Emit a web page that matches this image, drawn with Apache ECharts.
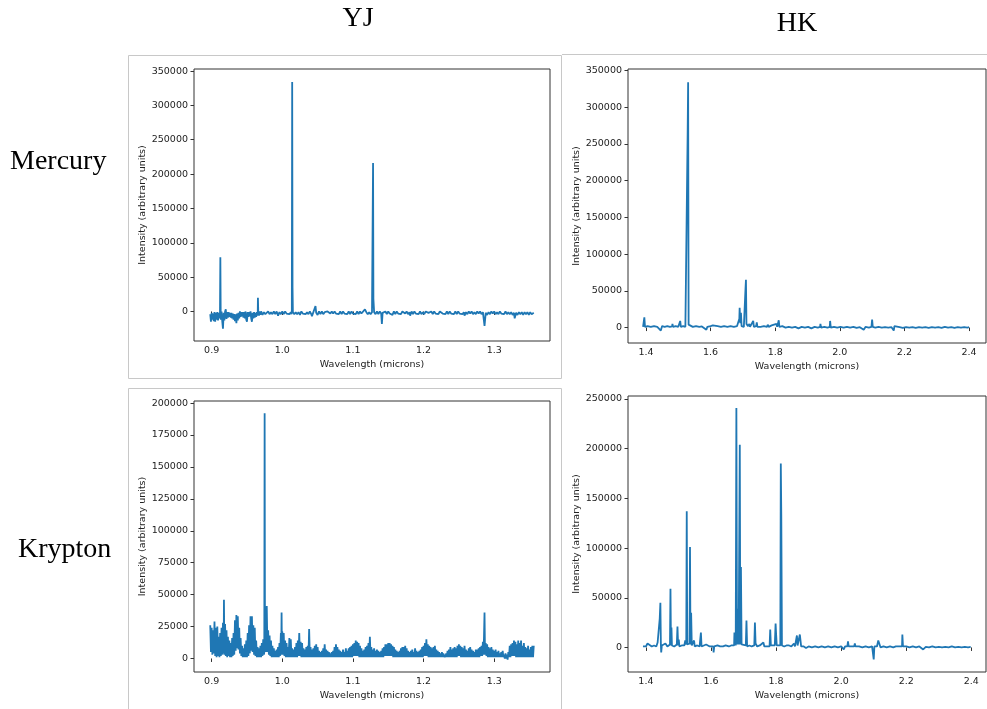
<!DOCTYPE html>
<html>
<head>
<meta charset="utf-8">
<script src="https://cdn.jsdelivr.net/npm/echarts@6/dist/echarts.min.js"></script>
<style>
  html, body { margin: 0; padding: 0; background: #fff; }
  #main { width: 987px; height: 709px; }
</style>
</head>
<body>
<div id="main"></div>
<script>
// tick labels
var yjTicks = [0.9, 1.0, 1.1, 1.2, 1.3];
var hkTicks = [1.4, 1.6, 1.8, 2.0, 2.2, 2.4];
var mercuryYTicks = [0, 50000, 100000, 150000, 200000, 250000, 300000, 350000];
var kryptonYJYTicks = [0, 25000, 50000, 75000, 100000, 125000, 150000, 175000, 200000];
var kryptonHKYTicks = [0, 50000, 100000, 150000, 200000, 250000];

// Mercury, YJ band: [wavelength, intensity]
var mercuryYJ = [
  [0.898, -4000], [0.899, -15000], [0.900, -2000], [0.901, -12000], [0.902, -3000], [0.903, -14000],
  [0.904, -1000], [0.905, -15000], [0.906, -2000], [0.907, -12000], [0.908, -1000], [0.909, -13000],
  [0.910, -2000], [0.911, -10000], [0.9118, -2000], [0.9123, 79000], [0.9128, -3000], [0.913, -12000],
  [0.914, 0], [0.915, -14000], [0.916, -25000], [0.917, -2000], [0.918, -13000], [0.919, 0],
  [0.920, 3000], [0.921, -11000], [0.922, -1000], [0.923, -9000], [0.924, -1000], [0.925, -8000],
  [0.926, -2000], [0.927, -9000], [0.928, -2000], [0.929, -10000], [0.930, -3000], [0.931, -12000],
  [0.932, -4000], [0.933, -14000], [0.934, -4000], [0.935, -17000], [0.936, -3000], [0.937, -13000],
  [0.938, -2000], [0.939, -10000], [0.940, 0], [0.941, -8000], [0.942, -1000], [0.943, -7000],
  [0.944, -1000], [0.945, -9000], [0.946, -1000], [0.947, -10000], [0.948, 0], [0.949, -12000],
  [0.950, -15000], [0.951, -1000], [0.952, -8000], [0.953, -1000], [0.954, -7000], [0.955, 0],
  [0.956, -10000], [0.957, -15000], [0.958, -2000], [0.959, -10000], [0.960, -1000], [0.961, -9000],
  [0.962, -2000], [0.963, -8000], [0.964, -1000], [0.9652, -6000], [0.9655, 20000], [0.966, -1000],
  [0.967, -6000], [0.968, 0], [0.969, -5000], [0.970, 0], [0.972, -5000], [0.974, -1000],
  [0.976, -4000], [0.978, -5000], [0.980, 0], [0.982, -4000], [0.984, -1000], [0.986, -4000],
  [0.988, 0], [0.990, -4000], [0.992, 0], [0.994, -6000], [0.996, -1000], [0.998, -4000],
  [1.000, 0], [1.002, -4000], [1.004, 0], [1.006, -3000], [1.008, -1000], [1.010, -4000],
  [1.012, -1000], [1.013, -4000], [1.0135, 0], [1.014, 334000], [1.0145, 35000], [1.015, -1000],
  [1.017, -4000], [1.019, -1000], [1.021, -4000], [1.023, -1000], [1.025, -5000], [1.027, 0],
  [1.029, -3000], [1.031, -1000], [1.033, -4000], [1.035, -1000], [1.037, -4000], [1.039, 0],
  [1.041, -4000], [1.042, -7000], [1.044, -1000], [1.046, -3000], [1.047, 8000], [1.048, -2000],
  [1.050, -5000], [1.052, 0], [1.054, -4000], [1.056, 0], [1.058, -4000], [1.060, -1000],
  [1.062, -3000], [1.064, 0], [1.066, 1000], [1.068, -3000], [1.070, 0], [1.072, -3000],
  [1.074, 0], [1.076, -3000], [1.078, -1000], [1.080, -4000], [1.082, 0], [1.084, -4000],
  [1.086, 0], [1.088, -3000], [1.090, -1000], [1.092, -4000], [1.094, 0], [1.096, -4000],
  [1.098, 0], [1.100, -3000], [1.102, -1000], [1.104, -4000], [1.106, 0], [1.108, -4000],
  [1.110, 0], [1.112, -3000], [1.114, -1000], [1.117, 3000], [1.119, -1000], [1.121, -4000],
  [1.123, -1000], [1.125, -4000], [1.127, -1000], [1.128, -2000], [1.1285, 216000], [1.129, 18000],
  [1.130, -1000], [1.132, -4000], [1.134, 0], [1.136, -4000], [1.138, 0], [1.140, -3000],
  [1.141, -18000], [1.142, -2000], [1.144, -4000], [1.146, 0], [1.148, -4000], [1.150, 0],
  [1.152, -3000], [1.154, -1000], [1.156, -5000], [1.158, 0], [1.160, -4000], [1.162, 0],
  [1.164, -3000], [1.166, -1000], [1.168, -4000], [1.170, 0], [1.172, 1000], [1.174, -3000],
  [1.176, 0], [1.178, -4000], [1.180, -1000], [1.181, -6000], [1.183, 0], [1.185, -4000],
  [1.187, 0], [1.189, -3000], [1.191, -1000], [1.193, -4000], [1.195, 0], [1.197, -4000],
  [1.199, -1000], [1.201, -4000], [1.203, 0], [1.205, 2000], [1.207, -2000], [1.209, -4000],
  [1.211, 0], [1.213, -4000], [1.215, 0], [1.217, -3000], [1.219, -1000], [1.221, -4000],
  [1.223, 0], [1.225, 1000], [1.227, -3000], [1.229, -1000], [1.231, -4000], [1.233, 0],
  [1.235, -4000], [1.237, 0], [1.239, -3000], [1.241, -1000], [1.243, -4000], [1.245, 0],
  [1.247, -4000], [1.249, 0], [1.251, -3000], [1.253, -1000], [1.255, -4000], [1.257, -1000],
  [1.258, -6000], [1.260, -1000], [1.262, -4000], [1.264, 0], [1.266, -3000], [1.268, 0],
  [1.270, -4000], [1.272, -1000], [1.274, -4000], [1.276, 0], [1.278, -3000], [1.280, 0],
  [1.282, -4000], [1.284, -1000], [1.2855, -3000], [1.2863, -21000], [1.288, -2000], [1.290, -5000],
  [1.292, -1000], [1.294, -4000], [1.296, 0], [1.298, -3000], [1.300, 0], [1.302, -4000],
  [1.304, -1000], [1.306, -4000], [1.308, 0], [1.310, -3000], [1.312, -1000], [1.314, -4000],
  [1.316, 0], [1.318, -4000], [1.320, -1000], [1.322, -4000], [1.324, -1000], [1.326, -5000],
  [1.328, -2000], [1.329, -10000], [1.331, -2000], [1.333, -5000], [1.335, -1000], [1.337, -4000],
  [1.339, -1000], [1.341, -5000], [1.343, -1000], [1.345, -4000], [1.347, -1000], [1.349, -5000],
  [1.351, -1000], [1.353, -4000], [1.355, -5000], [1.356, -2000]
];

// Mercury, HK band
var mercuryHK = [
  [1.391, 1000], [1.394, 2000], [1.395, 14000], [1.397, 1000], [1.405, 2000], [1.415, 1000],
  [1.425, 2000], [1.435, 1000], [1.441, 2500], [1.446, -4000], [1.450, 2000], [1.458, 1000],
  [1.466, 2000], [1.474, 1000], [1.481, 1500], [1.482, 5000], [1.484, 1000], [1.492, 2000],
  [1.500, 1000], [1.505, 1500], [1.506, 9000], [1.508, 1000], [1.515, 2000], [1.522, 1000],
  [1.528, 3000], [1.529, 263000], [1.5305, 334000], [1.532, 4000], [1.535, 2000], [1.545, 1000],
  [1.555, 2000], [1.565, 1000], [1.573, 1500], [1.574, 3000], [1.578, 1000], [1.587, -3000],
  [1.590, 1000], [1.600, 2000], [1.607, 3000], [1.612, 1000], [1.622, 2000], [1.632, 1000],
  [1.642, 2000], [1.652, 1000], [1.662, 2000], [1.672, 1000], [1.682, 2000], [1.688, 3000],
  [1.689, 12000], [1.690, 27000], [1.692, 6000], [1.694, 20000], [1.696, 2000], [1.703, 1000],
  [1.707, 3000], [1.708, 52000], [1.7095, 65000], [1.711, 5000], [1.716, 2000], [1.720, 5000],
  [1.722, 1000], [1.728, 2000], [1.732, 9000], [1.734, 1000], [1.741, 2000], [1.743, 7000],
  [1.745, 1000], [1.755, 1000], [1.765, 2000], [1.775, 1000], [1.777, 4000], [1.780, 1000],
  [1.789, 3000], [1.792, 1000], [1.804, 5000], [1.806, 1000], [1.811, 10000], [1.813, 1000],
  [1.822, 2000], [1.832, 0], [1.842, 1000], [1.852, 0], [1.862, 1000], [1.872, -1000],
  [1.882, 1000], [1.892, 0], [1.902, 1000], [1.912, -1000], [1.922, 1000], [1.932, 0],
  [1.939, 1000], [1.940, 5000], [1.942, 0], [1.952, 1000], [1.962, 0], [1.969, 1000],
  [1.970, 9000], [1.972, 0], [1.982, 1000], [1.992, 0], [2.002, 1000], [2.012, 0],
  [2.022, 1000], [2.032, 0], [2.042, 1000], [2.052, -500], [2.062, 500], [2.074, -3000],
  [2.080, 1000], [2.090, 0], [2.098, 1000], [2.100, 11000], [2.102, 1000], [2.110, 0],
  [2.120, 1000], [2.130, 0], [2.140, 500], [2.150, 0], [2.160, 500], [2.167, -4000],
  [2.169, 2000], [2.175, 0], [2.185, 500], [2.195, -500], [2.205, 500], [2.215, 0],
  [2.225, 500], [2.235, -500], [2.245, 500], [2.255, 0], [2.265, 500], [2.275, -500],
  [2.285, 500], [2.295, 0], [2.305, 500], [2.315, -500], [2.325, 1000], [2.335, 0],
  [2.345, 500], [2.355, -500], [2.365, 500], [2.375, 0], [2.385, 500], [2.395, 0], [2.400, 500]
];

// Krypton, YJ band
var kryptonYJ = [
  [0.898, 26000], [0.899, 5000], [0.900, 24000], [0.901, 3000], [0.902, 22000], [0.903, 4000],
  [0.904, 29000], [0.905, 2000], [0.906, 24000], [0.907, 1000], [0.908, 25000], [0.909, 2000],
  [0.910, 17000], [0.911, 1000], [0.912, 20000], [0.913, 2000], [0.914, 24000], [0.915, 3000],
  [0.916, 28000], [0.917, 4000], [0.9174, 46000], [0.918, 3000], [0.919, 27000], [0.920, 2000],
  [0.921, 22000], [0.922, 1000], [0.923, 17000], [0.924, 2000], [0.925, 14000], [0.926, 1000],
  [0.927, 12000], [0.928, 1000], [0.929, 16000], [0.930, 2000], [0.931, 20000], [0.932, 3000],
  [0.933, 30000], [0.934, 6000], [0.935, 34000], [0.936, 8000], [0.937, 33000], [0.938, 7000],
  [0.939, 24000], [0.940, 4000], [0.941, 16000], [0.942, 2000], [0.943, 10000], [0.944, 1000],
  [0.945, 8000], [0.946, 1000], [0.947, 11000], [0.948, 1000], [0.949, 14000], [0.950, 1000],
  [0.951, 20000], [0.952, 2000], [0.953, 26000], [0.954, 4000], [0.955, 33000], [0.956, 6000],
  [0.957, 33000], [0.958, 5000], [0.959, 26000], [0.960, 3000], [0.961, 24000], [0.962, 2000],
  [0.963, 14000], [0.964, 1000], [0.965, 9000], [0.966, 1000], [0.967, 8000], [0.968, 1000],
  [0.969, 10000], [0.970, 1000], [0.971, 12000], [0.972, 2000], [0.973, 15000], [0.974, 3000],
  [0.9745, 5000], [0.975, 192000], [0.9755, 5000], [0.976, 17000], [0.977, 5000], [0.978, 41000],
  [0.979, 5000], [0.980, 22000], [0.981, 3000], [0.982, 18000], [0.983, 2000], [0.984, 14000],
  [0.985, 1000], [0.986, 10000], [0.987, 1000], [0.988, 8000], [0.989, 1000], [0.990, 6000],
  [0.991, 1000], [0.992, 7000], [0.993, 1000], [0.994, 9000], [0.995, 1000], [0.996, 12000],
  [0.997, 2000], [0.998, 20000], [0.9985, 3000], [0.999, 36000], [0.9995, 4000], [1.000, 21000],
  [1.001, 3000], [1.002, 20000], [1.003, 2000], [1.004, 14000], [1.005, 1000], [1.006, 12000],
  [1.007, 1000], [1.008, 9000], [1.009, 1000], [1.010, 16000], [1.011, 1000], [1.012, 15000],
  [1.013, 1000], [1.014, 8000], [1.015, 1000], [1.016, 7000], [1.017, 1000], [1.018, 9000],
  [1.019, 1000], [1.020, 12000], [1.021, 1000], [1.022, 14000], [1.023, 2000], [1.024, 20000],
  [1.025, 2000], [1.026, 13000], [1.027, 1000], [1.028, 12000], [1.029, 1000], [1.030, 8000],
  [1.031, 1000], [1.032, 7000], [1.033, 1000], [1.034, 9000], [1.035, 1000], [1.036, 10000],
  [1.037, 1000], [1.038, 23000], [1.039, 1000], [1.040, 9000], [1.041, 1000], [1.042, 7000],
  [1.043, 1000], [1.044, 8000], [1.045, 1000], [1.046, 10000], [1.047, 1000], [1.048, 11000],
  [1.049, 1000], [1.050, 9000], [1.051, 1000], [1.052, 6000], [1.053, 1000], [1.054, 5000],
  [1.055, 1000], [1.056, 6000], [1.057, 1000], [1.058, 8000], [1.059, 1000], [1.060, 11000],
  [1.061, 1000], [1.062, 7000], [1.063, 1000], [1.064, 6000], [1.065, 1000], [1.066, 5000],
  [1.067, 1000], [1.068, 4000], [1.069, 1000], [1.070, 5000], [1.071, 1000], [1.072, 6000],
  [1.073, 1000], [1.074, 9000], [1.075, 1000], [1.076, 11000], [1.077, 1000], [1.078, 9000],
  [1.079, 1000], [1.080, 7000], [1.081, 1000], [1.082, 6000], [1.083, 1000], [1.084, 5000],
  [1.085, 1000], [1.086, 7000], [1.087, 1000], [1.088, 5000], [1.089, 1000], [1.090, 8000],
  [1.091, 1000], [1.092, 6000], [1.093, 1000], [1.094, 8000], [1.095, 1000], [1.096, 9000],
  [1.097, 1000], [1.098, 10000], [1.099, 1000], [1.100, 11000], [1.101, 2000], [1.102, 12000],
  [1.103, 2000], [1.104, 14000], [1.105, 2000], [1.106, 13000], [1.107, 2000], [1.108, 12000],
  [1.109, 1000], [1.110, 10000], [1.111, 1000], [1.112, 8000], [1.113, 1000], [1.114, 6000],
  [1.115, 1000], [1.116, 7000], [1.117, 1000], [1.118, 9000], [1.119, 1000], [1.120, 10000],
  [1.121, 1000], [1.122, 12000], [1.123, 1000], [1.124, 17000], [1.125, 1000], [1.126, 9000],
  [1.127, 1000], [1.128, 7000], [1.129, 1000], [1.130, 8000], [1.131, 1000], [1.132, 6000],
  [1.133, 1000], [1.134, 7000], [1.135, 1000], [1.136, 6000], [1.137, 1000], [1.138, 5000],
  [1.139, 1000], [1.140, 6000], [1.141, 1000], [1.142, 8000], [1.143, 1000], [1.144, 9000],
  [1.145, 2000], [1.146, 11000], [1.147, 2000], [1.148, 11000], [1.149, 2000], [1.150, 12000],
  [1.151, 2000], [1.152, 12000], [1.153, 2000], [1.154, 11000], [1.155, 2000], [1.156, 10000],
  [1.157, 1000], [1.158, 9000], [1.159, 1000], [1.160, 7000], [1.161, 1000], [1.162, 6000],
  [1.163, 1000], [1.164, 5000], [1.165, 1000], [1.166, 6000], [1.167, 1000], [1.168, 8000],
  [1.169, 1000], [1.170, 9000], [1.171, 1000], [1.172, 9000], [1.173, 1000], [1.174, 10000],
  [1.175, 1000], [1.176, 8000], [1.177, 1000], [1.178, 6000], [1.179, 1000], [1.180, 5000],
  [1.181, 1000], [1.182, 6000], [1.183, 1000], [1.184, 7000], [1.185, 1000], [1.186, 5000],
  [1.187, 1000], [1.188, 8000], [1.189, 1000], [1.190, 6000], [1.191, 1000], [1.192, 5000],
  [1.193, 1000], [1.194, 6000], [1.195, 1000], [1.196, 7000], [1.197, 1000], [1.198, 9000],
  [1.199, 1000], [1.200, 10000], [1.201, 2000], [1.202, 12000], [1.203, 2000], [1.204, 15000],
  [1.205, 2000], [1.206, 11000], [1.207, 1000], [1.208, 10000], [1.209, 1000], [1.210, 9000],
  [1.211, 1000], [1.212, 8000], [1.213, 1000], [1.214, 9000], [1.215, 1000], [1.216, 10000],
  [1.217, 1000], [1.218, 7000], [1.219, 1000], [1.220, 6000], [1.221, 1000], [1.222, 5000],
  [1.223, 1000], [1.224, 4000], [1.225, 1000], [1.226, 5000], [1.227, 1000], [1.228, 4000],
  [1.229, 1000], [1.230, 3000], [1.231, 1000], [1.232, 4000], [1.233, 1000], [1.234, 6000],
  [1.235, 1000], [1.236, 7000], [1.237, 1000], [1.238, 9000], [1.239, 1000], [1.240, 7000],
  [1.241, 1000], [1.242, 8000], [1.243, 1000], [1.244, 9000], [1.245, 1000], [1.246, 8000],
  [1.247, 1000], [1.248, 10000], [1.249, 2000], [1.250, 11000], [1.251, 2000], [1.252, 10000],
  [1.253, 1000], [1.254, 9000], [1.255, 1000], [1.256, 8000], [1.257, 1000], [1.258, 10000],
  [1.259, 1000], [1.260, 7000], [1.261, 1000], [1.262, 6000], [1.263, 1000], [1.264, 8000],
  [1.265, 1000], [1.266, 9000], [1.267, 1000], [1.268, 7000], [1.269, 1000], [1.270, 6000],
  [1.271, 1000], [1.272, 5000], [1.273, 1000], [1.274, 7000], [1.275, 1000], [1.276, 7000],
  [1.277, 1000], [1.278, 8000], [1.279, 1000], [1.280, 9000], [1.281, 2000], [1.282, 10000],
  [1.283, 2000], [1.284, 13000], [1.285, 3000], [1.2863, 36000], [1.287, 3000], [1.288, 12000],
  [1.289, 2000], [1.290, 11000], [1.291, 1000], [1.292, 9000], [1.293, 1000], [1.294, 8000],
  [1.295, 1000], [1.296, 9000], [1.297, 1000], [1.298, 7000], [1.299, 1000], [1.300, 6000],
  [1.301, 1000], [1.302, 7000], [1.303, 1000], [1.304, 5000], [1.305, 1000], [1.306, 6000],
  [1.307, 1000], [1.308, 4000], [1.309, 1000], [1.310, 5000], [1.311, 1000], [1.312, 6000],
  [1.313, 1000], [1.314, 3000], [1.315, 0], [1.316, 4000], [1.317, 0], [1.318, 3000],
  [1.319, -1000], [1.320, 5000], [1.321, 1000], [1.322, 10000], [1.323, 1000], [1.324, 11000],
  [1.325, 2000], [1.326, 12000], [1.327, 2000], [1.328, 14000], [1.329, 2000], [1.330, 13000],
  [1.331, 1000], [1.332, 11000], [1.333, 1000], [1.334, 14000], [1.335, 1000], [1.336, 12000],
  [1.337, 1000], [1.338, 14000], [1.339, 1000], [1.340, 10000], [1.341, 1000], [1.342, 12000],
  [1.343, 1000], [1.344, 9000], [1.345, 1000], [1.346, 8000], [1.347, 1000], [1.348, 10000],
  [1.349, 1000], [1.350, 7000], [1.351, 1000], [1.352, 9000], [1.353, 1000], [1.354, 10000],
  [1.355, 1000], [1.356, 10000]
];

// Krypton, HK band
var kryptonHK = [
  [1.391, 1000], [1.395, 2000], [1.400, 1000], [1.405, 4000], [1.410, 2000], [1.418, 1000],
  [1.425, 2000], [1.432, 1000], [1.436, 5000], [1.440, 6000], [1.4425, 29000], [1.4445, 45000],
  [1.446, 3000], [1.447, -5000], [1.449, 2000], [1.455, 3000], [1.460, 4000], [1.466, 1000],
  [1.474, 3000], [1.4755, 59000], [1.477, 2000], [1.4785, 20000], [1.480, 2000], [1.487, 1000],
  [1.495, 3000], [1.497, 21000], [1.499, 2000], [1.501, 8000], [1.503, 1000], [1.510, 2000],
  [1.518, 2000], [1.521, 7000], [1.524, 3000], [1.5255, 137000], [1.527, 3000], [1.534, 4000],
  [1.5355, 101000], [1.537, 3000], [1.539, 35000], [1.541, 2000], [1.545, 3000], [1.548, 7000],
  [1.550, 1000], [1.558, 2000], [1.565, 1000], [1.568, 2000], [1.569, 15000], [1.571, 1000],
  [1.578, 2000], [1.585, 3000], [1.590, 3000], [1.596, 1000], [1.602, 2000], [1.607, 1000],
  [1.608, -5000], [1.610, 1000], [1.620, 2000], [1.628, 1000], [1.634, 3000], [1.637, 1000],
  [1.645, 2000], [1.650, 3000], [1.655, 1000], [1.662, 2000], [1.668, 1000], [1.671, 2000],
  [1.672, 15000], [1.674, 12000], [1.676, 2000], [1.677, 3000], [1.678, 241000], [1.680, 3000],
  [1.683, 39000], [1.685, 3000], [1.6875, 5000], [1.6885, 204000], [1.690, 3000], [1.692, 81000],
  [1.694, 3000], [1.700, 1000], [1.707, 2000], [1.709, 27000], [1.711, 1000], [1.718, 2000],
  [1.722, 4000], [1.725, 1000], [1.733, 2000], [1.735, 25000], [1.737, 4000], [1.742, 1000],
  [1.750, 2000], [1.756, 1000], [1.761, 5000], [1.764, 1000], [1.770, 2000], [1.780, 1000],
  [1.782, 18000], [1.784, 2000], [1.790, 1000], [1.796, 2000], [1.7985, 24000], [1.800, 14000],
  [1.802, 2000], [1.808, 1000], [1.813, 2000], [1.8145, 185000], [1.816, 133000], [1.818, 2000],
  [1.825, 1000], [1.832, 2000], [1.840, 2000], [1.847, 1000], [1.855, 4000], [1.858, 1000],
  [1.863, 2000], [1.864, 12000], [1.866, 2000], [1.872, 2000], [1.873, 13000], [1.875, 11000],
  [1.877, 1000], [1.885, 1000], [1.892, -500], [1.900, 1000], [1.910, 0], [1.920, 1000],
  [1.930, 0], [1.940, 1000], [1.950, 0], [1.960, 1000], [1.970, 0], [1.980, 1000],
  [1.990, 0], [2.000, 1000], [2.008, -2000], [2.012, 1000], [2.019, 1000], [2.021, 6000],
  [2.023, 1000], [2.030, 1000], [2.040, 1000], [2.042, 4000], [2.044, 1000], [2.055, 1000],
  [2.065, 0], [2.075, 1000], [2.085, 0], [2.095, 1000], [2.099, 1000], [2.100, -12000],
  [2.102, 1000], [2.110, 1000], [2.113, 2000], [2.114, 7000], [2.119, 7000], [2.121, 0],
  [2.130, 1000], [2.140, 0], [2.150, 1000], [2.160, 0], [2.168, 1000], [2.170, 3000],
  [2.172, 0], [2.180, 1000], [2.187, 1000], [2.188, 13000], [2.190, 1000], [2.200, 1000],
  [2.210, 0], [2.220, 1000], [2.230, 0], [2.240, 1000], [2.252, -2000], [2.260, 500],
  [2.270, 0], [2.280, 1000], [2.290, 0], [2.300, 500], [2.310, 0], [2.320, 500],
  [2.330, 0], [2.340, 1000], [2.350, 0], [2.360, 500], [2.370, 0], [2.380, 500],
  [2.390, 0], [2.398, 500]
];

var myChart = echarts.init(document.getElementById('main'));

var tickFont = { fontFamily: 'DejaVu Sans', fontSize: 9.5, color: '#222' };

function xAxisFor(idx, min, max, ticks) {
    return {
        type: 'value', gridIndex: idx, min: min, max: max,
        name: 'Wavelength (microns)', nameLocation: 'middle', nameGap: 19,
        nameTextStyle: tickFont,
        splitLine: { show: false },
        axisLine: { show: false },
        axisTick: { show: true, length: 3.5, lineStyle: { color: '#333' }, customValues: ticks },
        axisLabel: Object.assign({ margin: 5, customValues: ticks,
            formatter: function (v) { return v.toFixed(1); } }, tickFont)
    };
}

function yAxisFor(idx, min, max, ticks) {
    return {
        type: 'value', gridIndex: idx, min: min, max: max,
        name: 'Intensity (arbitrary units)', nameLocation: 'middle', nameGap: 44,
        nameTextStyle: tickFont,
        splitLine: { show: false },
        axisLine: { show: false },
        axisTick: { show: true, length: 3.5, lineStyle: { color: '#333' }, customValues: ticks },
        axisLabel: Object.assign({ margin: 6, customValues: ticks,
            formatter: function (v) { return String(Math.round(v)); } }, tickFont)
    };
}

function spectrum(idx, data) {
    return {
        type: 'line', xAxisIndex: idx, yAxisIndex: idx, data: data,
        showSymbol: false, smooth: false, sampling: null, animation: false,
        lineStyle: { color: '#1f77b4', width: 1.8 }
    };
}

var gridBox = { show: true, borderColor: '#333', borderWidth: 1, containLabel: false };

var option = {
    backgroundColor: '#fff',
    animation: false,
    grid: [
        Object.assign({ left: 194, top: 69, width: 356, height: 272 }, gridBox),
        Object.assign({ left: 628, top: 69, width: 358, height: 274 }, gridBox),
        Object.assign({ left: 194, top: 401, width: 356, height: 271 }, gridBox),
        Object.assign({ left: 628, top: 396, width: 358, height: 276 }, gridBox)
    ],
    xAxis: [
        xAxisFor(0, 0.875, 1.379, yjTicks),
        xAxisFor(1, 1.3444, 2.4525, hkTicks),
        xAxisFor(2, 0.875, 1.379, yjTicks),
        xAxisFor(3, 1.345, 2.445, hkTicks)
    ],
    yAxis: [
        yAxisFor(0, -43000, 353000, mercuryYTicks),
        yAxisFor(1, -21000, 352000, mercuryYTicks),
        yAxisFor(2, -10600, 201600, kryptonYJYTicks),
        yAxisFor(3, -24700, 253000, kryptonHKYTicks)
    ],
    series: [
        spectrum(0, mercuryYJ),
        spectrum(1, mercuryHK),
        spectrum(2, kryptonYJ),
        spectrum(3, kryptonHK)
    ],
    graphic: [
        { type: 'rect', shape: { x: 128.5, y: 55.5, width: 433, height: 323 },
          style: { fill: 'none', stroke: '#c8c8c8', lineWidth: 1 }, z: -1 },
        { type: 'line', shape: { x1: 562, y1: 54.5, x2: 987, y2: 54.5 },
          style: { stroke: '#c8c8c8', lineWidth: 1 }, z: -1 },
        { type: 'rect', shape: { x: 128.5, y: 388.5, width: 433, height: 330 },
          style: { fill: 'none', stroke: '#c8c8c8', lineWidth: 1 }, z: -1 },
        { type: 'text', x: 358, y: 19,
          style: { text: 'YJ', fontFamily: 'Liberation Serif', fontSize: 28, fill: '#000',
                   textAlign: 'center', textVerticalAlign: 'middle' } },
        { type: 'text', x: 797, y: 24,
          style: { text: 'HK', fontFamily: 'Liberation Serif', fontSize: 28, fill: '#000',
                   textAlign: 'center', textVerticalAlign: 'middle' } },
        { type: 'text', x: 10, y: 162,
          style: { text: 'Mercury', fontFamily: 'Liberation Serif', fontSize: 28, fill: '#000',
                   textAlign: 'left', textVerticalAlign: 'middle' } },
        { type: 'text', x: 18, y: 550,
          style: { text: 'Krypton', fontFamily: 'Liberation Serif', fontSize: 28, fill: '#000',
                   textAlign: 'left', textVerticalAlign: 'middle' } }
    ]
};

option && myChart.setOption(option);
</script>
</body>
</html>
